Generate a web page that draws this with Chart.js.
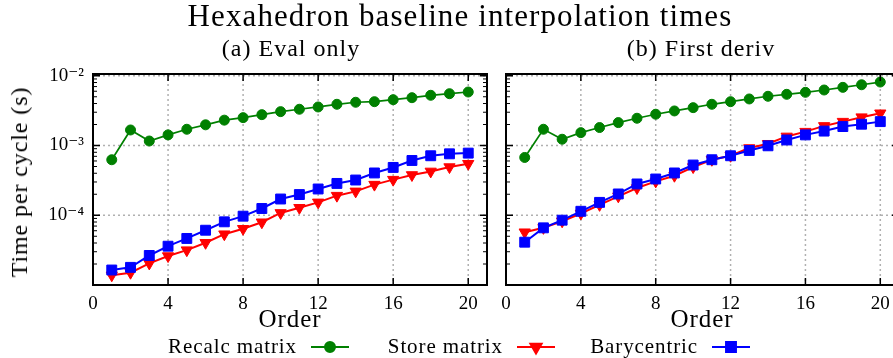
<!DOCTYPE html>
<html lang="en">
  <head>
    <meta charset="UTF-8" />
    <title>Hexahedron baseline interpolation times</title>
    <style>
      html, body { margin: 0; padding: 0; background: #fff; overflow: hidden; }
      body {
        width: 893px; height: 358px; position: relative;
        font-family: "Liberation Serif", "DejaVu Serif", serif; color: #000;
      }
      canvas { position: absolute; left: 0; top: 0; }
      .txt { position: absolute; transform: translate(-50%, -50%); white-space: nowrap; line-height: 1; }
      .title { left: 460px; top: 15px; font-size: 31px; letter-spacing: 1.1px; }
      .sub { top: 48px; font-size: 24px; letter-spacing: 1px; }
      .xlab { top: 318px; font-size: 25px; letter-spacing: 0.9px; }
      .ylab { left: 19px; top: 182px; font-size: 24px; letter-spacing: 0.9px; transform: translate(-50%, -50%) rotate(-90deg); }
    </style>
  </head>
  <body>
    <canvas id="evalChart" width="893" height="358"></canvas>
    <canvas id="derivChart" width="910" height="358"></canvas>

    <div class="txt title">Hexahedron baseline interpolation times</div>
    <div class="txt sub" style="left: 291px">(a) Eval only</div>
    <div class="txt sub" style="left: 701px">(b) First deriv</div>
    <div class="txt xlab" style="left: 290px">Order</div>
    <div class="txt xlab" style="left: 702px">Order</div>
    <div class="txt ylab">Time per cycle (s)</div>

    <script src="https://cdn.jsdelivr.net/npm/chart.js"></script>
    <script>
      // data
      const orders = [1, 2, 3, 4, 5, 6, 7, 8, 9, 10, 11, 12, 13, 14, 15, 16, 17, 18, 19, 20];

      const evalRecalc = [6.25e-4, 1.67e-3, 1.16e-3, 1.42e-3, 1.71e-3, 1.98e-3, 2.31e-3, 2.51e-3, 2.77e-3, 3.06e-3,
        3.31e-3, 3.57e-3, 3.9e-3, 4.17e-3, 4.25e-3, 4.54e-3, 4.85e-3, 5.25e-3, 5.53e-3, 5.85e-3];
      const evalStore = [1.38e-5, 1.5e-5, 2.04e-5, 2.6e-5, 3.16e-5, 4.03e-5, 5.35e-5, 6.4e-5, 7.94e-5, 1.08e-4,
        1.28e-4, 1.53e-4, 1.91e-4, 2.2e-4, 2.75e-4, 3.24e-4, 3.78e-4, 4.25e-4, 4.91e-4, 5.48e-4];
      const evalBary = [1.64e-5, 1.79e-5, 2.65e-5, 3.6e-5, 4.65e-5, 6.1e-5, 8.05e-5, 9.7e-5, 1.25e-4, 1.71e-4,
        1.98e-4, 2.38e-4, 2.86e-4, 3.2e-4, 4.04e-4, 4.85e-4, 6.1e-4, 7.13e-4, 7.6e-4, 7.78e-4];

      const derivRecalc = [6.74e-4, 1.71e-3, 1.23e-3, 1.53e-3, 1.81e-3, 2.13e-3, 2.46e-3, 2.81e-3, 3.13e-3, 3.49e-3,
        3.9e-3, 4.25e-3, 4.65e-3, 5.08e-3, 5.42e-3, 5.79e-3, 6.25e-3, 6.82e-3, 7.43e-3, 8.13e-3];
      const derivStore = [5.71e-5, 6.6e-5, 8.2e-5, 1.06e-4, 1.41e-4, 1.87e-4, 2.46e-4, 3.06e-4, 3.69e-4, 4.91e-4,
        6.25e-4, 7.13e-4, 9.2e-4, 1.06e-3, 1.35e-3, 1.58e-3, 1.91e-3, 2.2e-3, 2.55e-3, 2.9e-3];
      const derivBary = [4.11e-5, 6.6e-5, 8.5e-5, 1.14e-4, 1.53e-4, 2.02e-4, 2.81e-4, 3.31e-4, 4.04e-4, 5.25e-4,
        6.25e-4, 7.13e-4, 8.49e-4, 9.9e-4, 1.2e-3, 1.42e-3, 1.61e-3, 1.87e-3, 2.02e-3, 2.2e-3];

      const seriesNames = ["Recalc matrix", "Store matrix", "Barycentric"];
      const xTicks = [0, 4, 8, 12, 16, 20];
      const yExps = [-4, -3, -2];

      // styles
      const colors = ["#008000", "#ff0000", "#0000ff"];
      const lineWidths = [1.7, 2, 2];
      const markers = [
        { pointStyle: "circle", radius: 5, rotation: 0 },
        { pointStyle: "triangle", radius: 6.5, rotation: 180 },
        { pointStyle: "rect", radius: 7, rotation: 0 },
      ];

      Chart.defaults.font.family = '"Liberation Serif", "DejaVu Serif", serif';
      Chart.defaults.color = "#000";

      const sup = { "-": "\u207b", "2": "\u00b2", "3": "\u00b3", "4": "\u2074", "5": "\u2075" };
      const toSup = (n) => String(n).split("").map((c) => sup[c]).join("");

      // grid, frame and inward ticks like matplotlib
      const frame = {
        id: "frame",
        beforeDatasetsDraw(chart) {
          const { ctx, chartArea: a, scales } = chart;
          ctx.save();
          ctx.strokeStyle = "#b0b0b0";
          ctx.lineWidth = 1.5;
          ctx.setLineDash([2, 3]);
          ctx.beginPath();
          xTicks.forEach((v) => {
            const px = scales.x.getPixelForValue(v);
            if (px > a.left + 2 && px < a.right - 2) {
              ctx.moveTo(px, a.top);
              ctx.lineTo(px, a.bottom);
            }
          });
          yExps.forEach((e) => {
            const py = scales.y.getPixelForValue(Math.pow(10, e));
            ctx.moveTo(a.left, py);
            ctx.lineTo(a.right, py);
          });
          ctx.stroke();
          ctx.restore();
        },
        afterDatasetsDraw(chart) {
          const { ctx, chartArea: a, scales } = chart;
          ctx.save();
          ctx.strokeStyle = "#000";
          ctx.lineWidth = 1.5;
          ctx.beginPath();
          xTicks.forEach((v) => {
            const px = scales.x.getPixelForValue(v);
            ctx.moveTo(px, a.bottom);
            ctx.lineTo(px, a.bottom - 7);
            ctx.moveTo(px, a.top);
            ctx.lineTo(px, a.top + 7);
          });
          yExps.forEach((e) => {
            const py = scales.y.getPixelForValue(Math.pow(10, e));
            ctx.moveTo(a.left, py);
            ctx.lineTo(a.left + 7, py);
            ctx.moveTo(a.right, py);
            ctx.lineTo(a.right - 7, py);
          });
          ctx.stroke();
          ctx.lineWidth = 1;
          ctx.beginPath();
          for (let e = -5; e <= -2; e++) {
            for (let k = 2; k <= 9; k++) {
              const v = k * Math.pow(10, e);
              if (v < scales.y.min || v > scales.y.max) continue;
              const py = scales.y.getPixelForValue(v);
              ctx.moveTo(a.left, py);
              ctx.lineTo(a.left + 4, py);
              ctx.moveTo(a.right, py);
              ctx.lineTo(a.right - 4, py);
            }
          }
          ctx.stroke();
          ctx.lineWidth = 2;
          ctx.strokeRect(a.left, a.top, a.right - a.left, a.bottom - a.top);
          ctx.restore();
        },
      };

      // legend along the bottom, drawn with the dataset styles
      const legendBelow = {
        id: "legendBelow",
        afterDraw(chart) {
          const ctx = chart.ctx;
          const lineStarts = [311, 517, 712];
          const y = 347;
          ctx.save();
          chart.data.datasets.forEach((ds, i) => {
            const x0 = lineStarts[i];
            ctx.fillStyle = "#000";
            ctx.font = '21px "Liberation Serif", serif';
            ctx.letterSpacing = "0.9px";
            ctx.textAlign = "right";
            ctx.textBaseline = "middle";
            ctx.fillText(ds.label, x0 - 14, y);
            ctx.letterSpacing = "0px";
            ctx.strokeStyle = ds.borderColor;
            ctx.fillStyle = ds.backgroundColor;
            ctx.lineWidth = 2;
            ctx.beginPath();
            ctx.moveTo(x0, y);
            ctx.lineTo(x0 + 38, y);
            ctx.stroke();
            Chart.helpers.drawPoint(ctx, {
              pointStyle: ds.pointStyle,
              rotation: ds.pointRotation,
              radius: ds.pointRadius,
              borderWidth: 1,
            }, x0 + 19, y);
          });
          ctx.restore();
        },
      };

      function makeChart(id, seriesList, area, withLegend) {
        const ctx = document.getElementById(id).getContext("2d");
        return new Chart(ctx, {
          type: "line",
          data: {
            datasets: seriesList.map((vals, i) => ({
              label: seriesNames[i],
              data: orders.map((o, j) => ({ x: o, y: vals[j] })),
              borderColor: colors[i],
              backgroundColor: colors[i],
              borderWidth: lineWidths[i],
              pointStyle: markers[i].pointStyle,
              pointRadius: markers[i].radius,
              pointRotation: markers[i].rotation,
              pointBorderWidth: 1,
              order: 2 - i,
            })),
          },
          options: {
            responsive: false,
            animation: false,
            layout: { padding: { left: 0, top: area.top, right: area.padRight, bottom: 0 } },
            plugins: { legend: { display: false }, tooltip: { enabled: false } },
            scales: {
              x: {
                type: "linear",
                min: 0,
                max: 21,
                afterBuildTicks: (s) => { s.ticks = xTicks.map((v) => ({ value: v })); },
                afterFit: (s) => { s.height = 358 - area.bottom; },
                grid: { display: false, drawTicks: false },
                border: { display: false },
                ticks: { padding: 8, font: { size: 19 }, maxRotation: 0 },
              },
              y: {
                type: "logarithmic",
                min: 1e-5,
                max: 1.06e-2,
                afterFit: (s) => { s.width = area.left; },
                grid: { display: false, drawTicks: false },
                border: { display: false },
                ticks: {
                  display: area.showY,
                  padding: 9,
                  font: { size: 19 },
                  autoSkip: false,
                  callback: (v) => {
                    const e = Math.round(Math.log10(v));
                    if (Math.abs(Math.log10(v) - e) > 1e-6 || !yExps.includes(e)) return null;
                    return "10" + toSup(e);
                  },
                },
              },
            },
          },
          plugins: withLegend ? [frame, legendBelow] : [frame],
        });
      }

      makeChart("evalChart", [evalRecalc, evalStore, evalBary],
        { left: 93, top: 74, bottom: 285, padRight: 893 - 487, showY: true }, true);
      makeChart("derivChart", [derivRecalc, derivStore, derivBary],
        { left: 506, top: 74, bottom: 285, padRight: 910 - 899, showY: false }, false);
    </script>
  </body>
</html>
